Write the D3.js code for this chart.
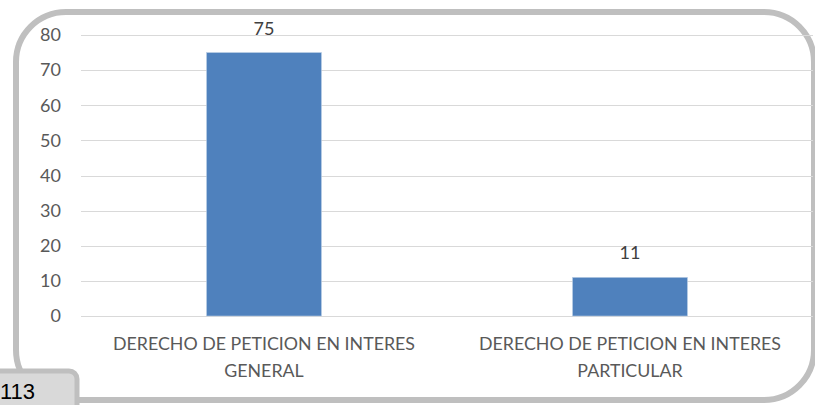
<!DOCTYPE html>
<html>
<head>
<meta charset="utf-8">
<script src="https://cdn.jsdelivr.net/npm/d3@7"></script>
<style>
  html, body { margin: 0; padding: 0; background: #fff; }
  svg { display: block; }
</style>
</head>
<body>
<svg id="chart" width="815" height="405"></svg>
<script>
const categories = [
  ["DERECHO DE PETICION EN INTERES", "GENERAL"],
  ["DERECHO DE PETICION EN INTERES", "PARTICULAR"]
];
const values = [75, 11];
const yTicks = [0, 10, 20, 30, 40, 50, 60, 70, 80];
const pageLabel = "113";

const svg = d3.select("#chart");
const font = "Lato, 'Open Sans', sans-serif";

// outer rounded frame
svg.append("rect")
  .attr("x", 16).attr("y", 12)
  .attr("width", 798).attr("height", 388)
  .attr("rx", 50).attr("ry", 50)
  .attr("fill", "#fff")
  .attr("stroke", "#bfbfbf").attr("stroke-width", 6);

const plot = { left: 81, right: 813, top: 35, bottom: 316 };

const x = d3.scaleBand()
  .domain(d3.range(categories.length))
  .range([plot.left, plot.right])
  .paddingInner(0.686)
  .paddingOuter(0.343);

const y = d3.scaleLinear()
  .domain([0, 80])
  .range([plot.bottom, plot.top]);

// gridlines
svg.append("g")
  .selectAll("line")
  .data(yTicks)
  .join("line")
  .attr("x1", plot.left).attr("x2", plot.right)
  .attr("y1", d => Math.round(y(d)) + 0.5)
  .attr("y2", d => Math.round(y(d)) + 0.5)
  .attr("stroke", "#d9d9d9").attr("stroke-width", 1);

// y axis labels
const yAxis = d3.axisLeft(y).tickValues(yTicks).tickSize(0).tickPadding(0);
const gy = svg.append("g")
  .attr("transform", `translate(${plot.left - 20},0)`)
  .call(yAxis);
gy.select(".domain").remove();
gy.selectAll("text")
  .attr("font-family", font)
  .attr("font-size", 18)
  .attr("fill", "#595959");

// bars
svg.append("g")
  .selectAll("rect")
  .data(values)
  .join("rect")
  .attr("x", (d, i) => x(i))
  .attr("y", d => y(d))
  .attr("width", x.bandwidth())
  .attr("height", d => y(0) - y(d))
  .attr("fill", "#4f81bd")
  .attr("stroke", "#b9cde5").attr("stroke-width", 0.6);

// value labels
svg.append("g")
  .selectAll("text")
  .data(values)
  .join("text")
  .attr("x", (d, i) => x(i) + x.bandwidth() / 2)
  .attr("y", d => y(d) - 18)
  .attr("text-anchor", "middle")
  .attr("font-family", font)
  .attr("font-size", 18)
  .attr("fill", "#404040")
  .text(d => d);

// category labels
const cat = svg.append("g")
  .selectAll("text")
  .data(categories)
  .join("text")
  .attr("text-anchor", "middle")
  .attr("font-family", font)
  .attr("font-size", 17.8)
  .attr("fill", "#595959");
cat.each(function(lines, i) {
  const t = d3.select(this);
  lines.forEach((ln, k) => {
    t.append("tspan")
      .attr("x", x(i) + x.bandwidth() / 2)
      .attr("y", 350 + k * 27)
      .text(ln);
  });
});

// page number box
svg.append("rect")
  .attr("x", -20).attr("y", 371)
  .attr("width", 97).attr("height", 50)
  .attr("rx", 8).attr("ry", 8)
  .attr("fill", "#d9d9d9")
  .attr("stroke", "#bfbfbf").attr("stroke-width", 5);
svg.append("text")
  .attr("x", 0).attr("y", 399)
  .attr("font-family", "'Liberation Sans', Arial, sans-serif")
  .attr("font-size", 22)
  .attr("fill", "#000")
  .text(pageLabel);
</script>
</body>
</html>
